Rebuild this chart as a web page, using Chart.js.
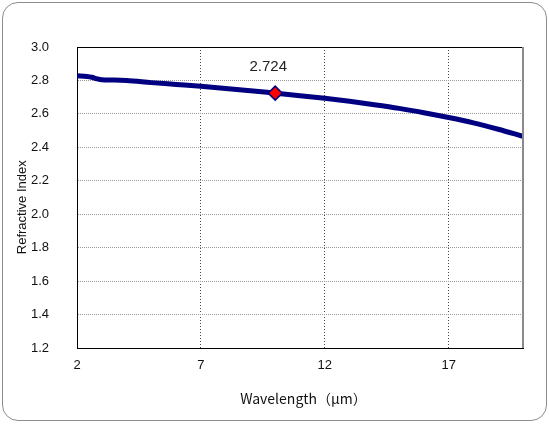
<!DOCTYPE html>
<html>
<head>
<meta charset="utf-8">
<script src="https://cdn.jsdelivr.net/npm/chart.js@4"></script>
<style>
  html,body{margin:0;padding:0;background:#fff;}
  .frame{position:absolute;left:2px;top:2px;width:543px;height:417px;border:1px solid #8c8c8c;border-radius:16px;}
  .wrap{position:absolute;left:0;top:0;width:549px;height:424px;}
</style>
</head>
<body>
<div class="frame"></div>
<div class="wrap"><canvas id="c" width="549" height="424"></canvas></div>
<script>
/* ── DATA ── */
const wavelength = [2.0,2.4,2.6,2.8,3.0,3.5,4.0,5.0,6.0,7.0,8.0,9.0,10.0,11.0,12.0,13.0,14.0,15.0,16.0,17.0,18.0,19.0,20.0];
const refIndex   = [2.828,2.824,2.819,2.810,2.804,2.802,2.799,2.787,2.776,2.765,2.752,2.739,2.724,2.709,2.693,2.675,2.655,2.633,2.607,2.578,2.546,2.508,2.466];
const markX = [10];
const markY = [2.724];
const markLabel = ['2.724'];
const xTicks = [2,7,12,17];

const FONT = "'Liberation Sans', Arial, sans-serif";

// plot frame: top + right edges, label above marker
const framePlugin = {
  id:'framePlugin',
  afterDatasetsDraw(chart){
    const {ctx, chartArea:a} = chart;
    ctx.save();
    ctx.strokeStyle='#000'; ctx.lineWidth=1;
    ctx.beginPath(); ctx.moveTo(a.left,a.top+0.5); ctx.lineTo(a.right,a.top+0.5); ctx.stroke();
    ctx.strokeStyle='#8a8a8a'; ctx.lineWidth=2;
    ctx.beginPath(); ctx.moveTo(a.right,a.top); ctx.lineTo(a.right,a.bottom); ctx.stroke();
    const xs=chart.scales.x, ys=chart.scales.y;
    ctx.fillStyle='#222'; ctx.font='15px '+FONT; ctx.textAlign='center'; ctx.textBaseline='middle';
    markX.forEach((v,i)=>{
      ctx.fillText(markLabel[i], xs.getPixelForValue(v)-7, ys.getPixelForValue(markY[i])-26);
    });
    ctx.restore();
  }
};

new Chart(document.getElementById('c').getContext('2d'),{
  type:'line',
  data:{
    datasets:[
      { data:wavelength.map((x,i)=>({x, y:refIndex[i]})),
        borderColor:'#000080', borderWidth:5, pointRadius:0, cubicInterpolationMode:'monotone', order:2 },
      { data:markX.map((x,i)=>({x, y:markY[i]})),
        showLine:false, pointStyle:'rectRot', pointRadius:7,
        pointBackgroundColor:'#ff0000', pointBorderColor:'#000080', pointBorderWidth:1.5, order:1 }
    ]
  },
  options:{
    responsive:false, animation:false,
    layout:{ padding:{ top:47, right:26, left:0, bottom:0 } },
    plugins:{ legend:{display:false}, tooltip:{enabled:false} },
    scales:{
      x:{ type:'linear', min:2, max:20,
        afterBuildTicks(s){ s.ticks = xTicks.map(v=>({value:v})); },
        afterFit(s){ s.height = 76; },
        grid:{ color:'#444', drawTicks:false, lineWidth:1 },
        border:{ display:true, color:'#000', width:1, dash:[1,2] },
        ticks:{ color:'#111', font:{family:FONT,size:13}, padding:10, maxRotation:0 },
        title:{ display:true, text:'\u2002Wavelength（μm）', color:'#111',
                font:{family:"'Noto Sans CJK JP', "+FONT, size:14}, padding:{top:0,bottom:17} }
      },
      y:{ min:1.2, max:3.0,
        afterFit(s){ s.width = 77; },
        grid:{ color:'#999', drawTicks:false, lineWidth:1 },
        border:{ display:true, color:'#000', width:1, dash:[1,1] },
        ticks:{ stepSize:0.2, color:'#111', font:{family:FONT,size:13}, padding:28,
                callback:v=>v.toFixed(1) },
        title:{ display:true, text:'Refractive Index\u2003\u2002', color:'#111',
                font:{family:FONT,size:13}, padding:{top:15,bottom:0} }
      }
    }
  },
  plugins:[framePlugin]
});
</script>
</body>
</html>
